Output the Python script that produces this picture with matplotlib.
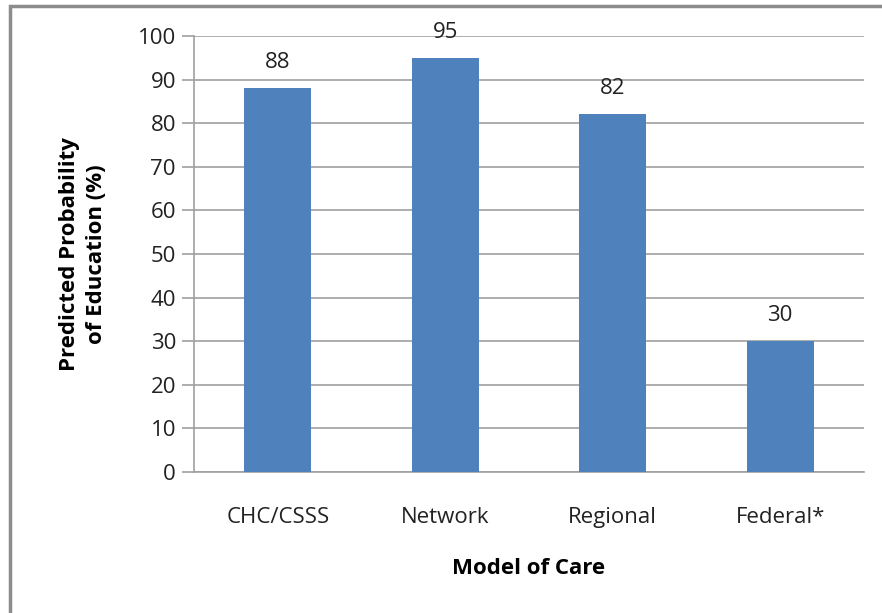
import matplotlib
matplotlib.use("Agg")
import matplotlib.pyplot as plt
from matplotlib.patches import Rectangle

categories = ["CHC/CSSS", "Network", "Regional", "Federal*"]
values = [88, 95, 82, 30]
yticks = [0, 10, 20, 30, 40, 50, 60, 70, 80, 90, 100]

plt.rcParams['font.family'] = ['Open Sans', 'DejaVu Sans']
W, H = 882, 613
fig = plt.figure(figsize=(W/100, H/100), dpi=100)
ax = fig.add_axes([194/W, 1-472/H, (864-194)/W, (472-36)/H])

FS = 16
x = list(range(len(categories)))
ax.bar(x, values, width=0.4, color='#4F81BD', zorder=3)
ax.set_xlim(-0.5, len(categories)-0.5)
ax.set_ylim(0, 100)
ax.set_yticks(yticks)
ax.set_yticklabels([str(t) for t in yticks], fontsize=FS, color='#222222')
ax.set_xticks(x)
ax.set_xticklabels(categories, fontsize=FS, color='#222222')
ax.tick_params(axis='x', length=0, pad=25)
ax.tick_params(axis='y', length=9, width=1.2, color='#A0A0A0', pad=4)
ax.grid(axis='y', color='#A0A0A0', linewidth=1.2, zorder=0)
for s in ['top', 'right']:
    ax.spines[s].set_visible(False)
for s in ['left', 'bottom']:
    ax.spines[s].set_color('#A0A0A0')
    ax.spines[s].set_linewidth(1.2)

for xi, v in zip(x, values):
    ax.annotate(str(v), (xi, v), xytext=(0, 11), textcoords='offset points',
                ha='center', va='bottom', fontsize=FS, color='#222222')

ax.set_xlabel("Model of Care", fontsize=FS, fontweight='bold', labelpad=22)
ax.set_ylabel("Predicted Probability\nof Education (%)", fontsize=FS,
              fontweight='bold', labelpad=22, linespacing=1.4)

fig.patches.append(Rectangle((10/W, -0.05), (W+20)/W, 1-6/H+0.05,
                             transform=fig.transFigure, fill=False,
                             edgecolor='#8C8C8C', linewidth=2.5))
fig.savefig("out.png", dpi=100)
